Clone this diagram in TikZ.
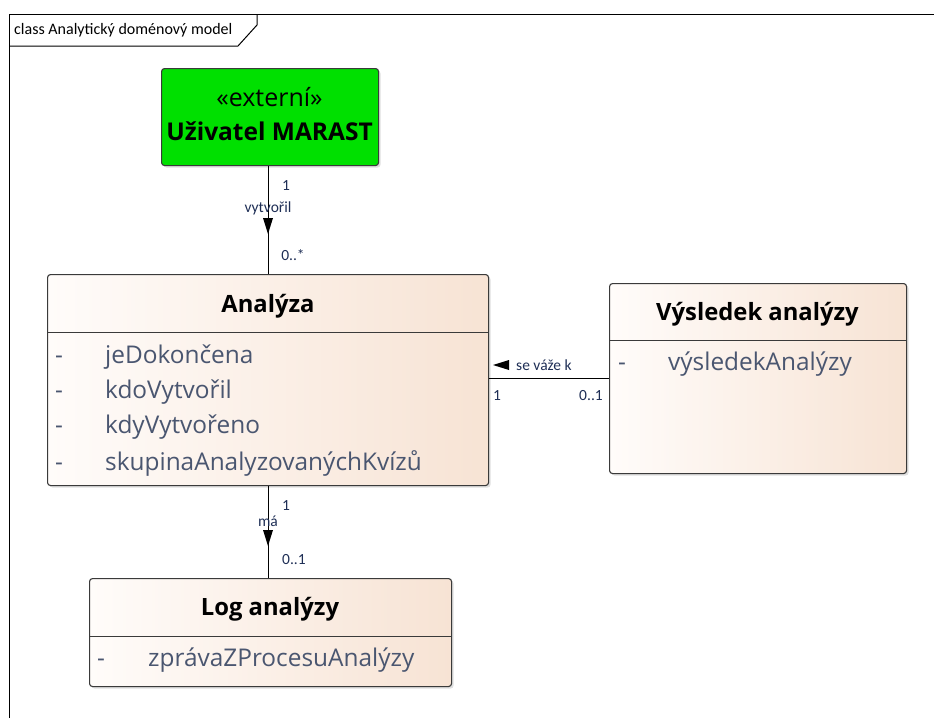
\documentclass[tikz,border=0pt]{standalone}
\usepackage{fontspec}
\setmainfont{Open Sans}
\newfontfamily\smallfont{Carlito}
\usetikzlibrary{shadows}
\definecolor{umlgreen}{HTML}{00E000}
\definecolor{boxleft}{HTML}{FFFCFA}
\definecolor{boxright}{HTML}{F7E3D4}
\definecolor{attrcol}{HTML}{4A5670}
\definecolor{lblcol}{HTML}{1E2E55}
\definecolor{edgecol}{HTML}{3A3A3A}
\tikzset{
  classbox/.style={draw=edgecol, line width=1.1pt, rounded corners=3pt,
    left color=boxleft, right color=boxright, shading angle=90,
    drop shadow={opacity=0.25, shadow xshift=2pt, shadow yshift=-2pt},
    anchor=north west, inner sep=0pt},
  greenbox/.style={draw=edgecol, line width=1.1pt, rounded corners=3pt, fill=umlgreen,
    drop shadow={opacity=0.25, shadow xshift=2pt, shadow yshift=-2pt},
    anchor=north west, inner sep=0pt},
  title/.style={font=\fontsize{23.8}{26}\selectfont\bfseries, text=black, inner sep=0pt},
  attr/.style={font=\fontsize{24.4}{27}\selectfont, text=attrcol, anchor=west, inner sep=0pt},
  dashmark/.style={font=\fontsize{24.4}{27}\selectfont, text=attrcol, anchor=base west, inner sep=0pt},
  lbl/.style={font=\smallfont\fontsize{15.5}{17}\selectfont, text=lblcol, inner sep=0pt},
  conn/.style={draw=black, line width=1pt},
  divider/.style={draw=edgecol, line width=1pt},
}
\begin{document}
\begin{tikzpicture}[x=1pt,y=-1pt]
\useasboundingbox (0,0) rectangle (934,718);
% frame
\draw[line width=1pt, black] (9,718) -- (9,14) -- (934,14);
\draw[line width=1pt, black] (9,46) -- (238,46) -- (257,25) -- (257,14);
\node[font=\smallfont\fontsize{16}{18}\selectfont, anchor=west, inner sep=0pt] (frametitle) at (14,30) {class Analytický doménový model};

% Uživatel MARAST
\node[greenbox, minimum width=217pt, minimum height=97pt] (user) at (161,68) {};
\node[font=\fontsize{25}{28}\selectfont, inner sep=0pt] (userst) at (269.5,97) {«externí»};
\node[title, font=\fontsize{24.5}{27}\selectfont\bfseries] (usern) at (269.5,131) {Uživatel MARAST};

% Analyza
\node[classbox, minimum width=441pt, minimum height=211pt] (ana) at (47,274) {};
\draw[divider] (ana.west |- 0,332) -- (ana.east |- 0,332);
\node[title] (anat) at (268,306) {Analýza};
\node[attr] (a1) at (105,357) {jeDokončena};
\node[dashmark] (a1d) at (a1.base -| 55,0) {-};
\node[attr] (a2) at (105,392) {kdoVytvořil};
\node[dashmark] (a2d) at (a2.base -| 55,0) {-};
\node[attr] (a3) at (105,427) {kdyVytvořeno};
\node[dashmark] (a3d) at (a3.base -| 55,0) {-};
\node[attr] (a4) at (105,463) {skupinaAnalyzovanýchKvízů};
\node[dashmark] (a4d) at (a4.base -| 55,0) {-};

% Vysledek analyzy
\node[classbox, minimum width=297pt, minimum height=190pt] (res) at (609,283) {};
\draw[divider] (res.west |- 0,340) -- (res.east |- 0,340);
\node[title] (rest) at (757.5,314) {Výsledek analýzy};
\node[attr] (r1) at (668,364) {výsledekAnalýzy};
\node[dashmark] (r1d) at (r1.base -| 618,0) {-};

% Log analyzy
\node[classbox, minimum width=362pt, minimum height=108pt] (log) at (89,578) {};
\draw[divider] (log.west |- 0,636) -- (log.east |- 0,636);
\node[title] (logt) at (270,609) {Log analýzy};
\node[attr] (l1) at (148,660) {zprávaZProcesuAnalýzy};
\node[dashmark] (l1d) at (l1.base -| 97,0) {-};

% connector user - analyza
\draw[conn] (ana.north |- user.south) -- (ana.north);
\fill[black] (263,218) -- (273,218) -- (268,234) -- cycle;
\node[lbl] (c1a) at (286,186) {1};
\node[lbl] (c1l) at (268,208) {vytvořil};
\node[lbl] (c1b) at (293,255) {0..*};

% connector analyza - vysledek
\coordinate (assocy) at (0,378);
\draw[conn] (ana.east |- assocy) -- (res.west |- assocy);
\fill[black] (493,365) -- (509,360) -- (509,370) -- cycle;
\node[lbl, anchor=west] (c2l) at (516,365) {se váže k};
\node[lbl] (c2a) at (497,396) {1};
\node[lbl] (c2b) at (591,396) {0..1};

% connector analyza - log
\draw[conn] (ana.south) -- (ana.south |- log.north);
\fill[black] (263,530) -- (273,530) -- (268,546) -- cycle;
\node[lbl] (c3a) at (286,506) {1};
\node[lbl] (c3l) at (268,521) {má};
\node[lbl] (c3b) at (294,560) {0..1};
\end{tikzpicture}
\end{document}
